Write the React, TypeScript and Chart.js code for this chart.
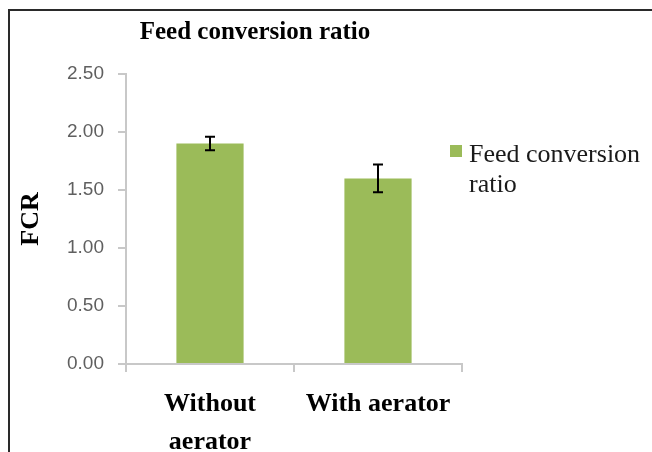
import React, { useEffect, useRef } from "react";
import { Chart, registerables } from "chart.js";

Chart.register(...registerables);

// ---- data ----
const categories: string[][] = [["Without", "aerator"], ["With aerator"]];
const fcrValues: number[] = [1.9, 1.6];
const fcrErrors: number[] = [0.058, 0.12];
const yMin = 0;
const yMax = 2.5;
const yStep = 0.5;
const seriesName = "Feed conversion ratio";
const legendLines: string[] = ["Feed conversion", "ratio"];
const chartTitle = "Feed conversion ratio";
const yAxisTitle = "FCR";

// ---- styles ----
const BAR_COLOR = "#9BBB59";
const AXIS_COLOR = "#C8C8C8";
const SERIF = "'Liberation Serif', 'Times New Roman', serif";
const SANS = "'Liberation Sans', Arial, sans-serif";

const errorBarPlugin = {
  id: "errorBars",
  afterDatasetsDraw(chart: any) {
    const meta = chart.getDatasetMeta(0);
    const yScale = chart.scales.y;
    const ctx = chart.ctx;
    ctx.save();
    ctx.strokeStyle = "#000";
    ctx.lineWidth = 2;
    meta.data.forEach((bar: any, i: number) => {
      const v = fcrValues[i];
      const e = fcrErrors[i];
      const yTop = yScale.getPixelForValue(v + e);
      const yBot = yScale.getPixelForValue(v - e);
      const x = bar.x;
      const cap = 5;
      ctx.beginPath();
      ctx.moveTo(x, yTop);
      ctx.lineTo(x, yBot);
      ctx.moveTo(x - cap, yTop);
      ctx.lineTo(x + cap, yTop);
      ctx.moveTo(x - cap, yBot);
      ctx.lineTo(x + cap, yBot);
      ctx.stroke();
    });
    ctx.restore();
  },
};

const titleLegendPlugin = {
  id: "titleLegend",
  afterDraw(chart: any) {
    const ctx = chart.ctx;
    ctx.save();
    // title
    ctx.fillStyle = "#000";
    ctx.font = `bold 25px ${SERIF}`;
    ctx.textAlign = "center";
    ctx.textBaseline = "alphabetic";
    ctx.fillText(chartTitle, 255, 39);
    // legend
    ctx.fillStyle = BAR_COLOR;
    ctx.fillRect(450, 145, 12, 12);
    ctx.fillStyle = "#1a1a1a";
    ctx.font = `26px ${SERIF}`;
    ctx.textAlign = "left";
    legendLines.forEach((line, i) => {
      ctx.fillText(line, 469, 162 + i * 30);
    });
    ctx.restore();
  },
};

export default function App() {
  const canvasRef = useRef<HTMLCanvasElement | null>(null);

  useEffect(() => {
    if (!canvasRef.current) return;
    const chart = new Chart(canvasRef.current, {
      type: "bar",
      data: {
        labels: categories,
        datasets: [
          {
            label: seriesName,
            data: fcrValues,
            backgroundColor: BAR_COLOR,
            borderWidth: 0,
            categoryPercentage: 1,
            barPercentage: 0.4,
          },
        ],
      },
      options: {
        responsive: false,
        animation: false,
        layout: { padding: { left: 0, top: 74, right: 190, bottom: 0 } },
        plugins: {
          legend: { display: false },
          title: { display: false },
          tooltip: { enabled: false },
        },
        scales: {
          x: {
            grid: {
              display: true,
              drawOnChartArea: false,
              drawTicks: true,
              tickLength: 8,
              color: AXIS_COLOR,
              lineWidth: 2,
            },
            border: { color: AXIS_COLOR, width: 2 },
            ticks: {
              color: "#000",
              font: { family: SERIF, size: 26, weight: "bold", lineHeight: 1.46 },
              padding: 13,
              maxRotation: 0,
              minRotation: 0,
              autoSkip: false,
            },
            afterFit: (scale: any) => {
              scale.height = 88;
            },
          },
          y: {
            min: yMin,
            max: yMax,
            grid: {
              display: true,
              drawOnChartArea: false,
              drawTicks: true,
              tickLength: 8,
              color: AXIS_COLOR,
              lineWidth: 2,
            },
            border: { color: AXIS_COLOR, width: 2 },
            ticks: {
              stepSize: yStep,
              color: "#5f5f5f",
              font: { family: SANS, size: 19 },
              padding: 14,
              callback: (v: any) => Number(v).toFixed(2),
            },
            title: {
              display: true,
              text: yAxisTitle,
              color: "#000",
              font: { family: SERIF, size: 26, weight: "bold", lineHeight: 1.2 },
              padding: { top: 16, bottom: 0 },
            },
            afterFit: (scale: any) => {
              scale.width = 126;
            },
          },
        },
      },
      plugins: [errorBarPlugin, titleLegendPlugin],
    });
    return () => chart.destroy();
  }, []);

  return (
    <div
      style={{
        position: "fixed",
        left: 0,
        top: 0,
        width: 652,
        height: 452,
        background: "#fff",
        overflow: "hidden",
      }}
    >
      <canvas ref={canvasRef} width={652} height={452} style={{ display: "block" }} />
      <div
        style={{
          position: "absolute",
          left: 8,
          top: 9,
          right: 0,
          bottom: 0,
          borderTop: "2px solid #2a2a2a",
          borderLeft: "2px solid #2a2a2a",
          pointerEvents: "none",
        }}
      />
    </div>
  );
}
